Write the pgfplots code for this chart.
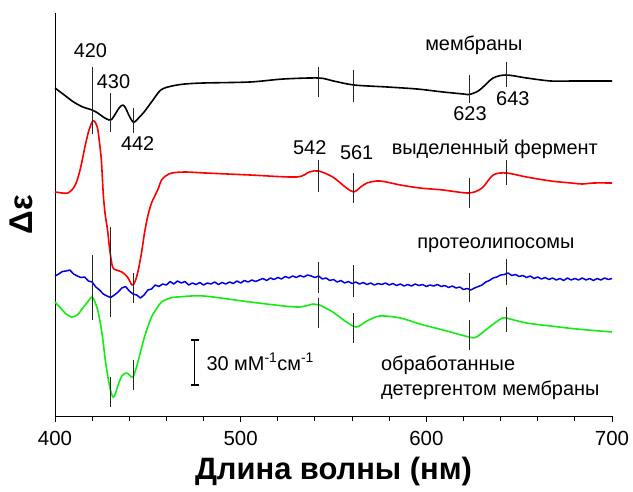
\documentclass[border=0pt]{standalone}
\usepackage{pgfplots}
\pgfplotsset{compat=1.18}
\usepackage{fontspec}
\setmainfont{Liberation Sans}
\definecolor{cred}{RGB}{255,0,0}
\definecolor{cblue}{RGB}{0,0,235}
\definecolor{cgreen}{RGB}{20,235,20}
\newcommand\mk[3]{\addplot[mk] coordinates {(#1,#2) (#1,#3)};}
\tikzset{lab/.style={font=\fontsize{20}{25}\selectfont, inner sep=0pt}}
\begin{document}
\begin{tikzpicture}
\begin{axis}[
  scale only axis, width=557bp, height=403bp,
  xmin=400, xmax=700, ymin=0, ymax=403,
  axis x line*=bottom, axis y line*=left,
  axis line style={-, line width=1bp},
  xtick={400,500,600,700}, minor xtick={420,440,460,480,520,540,560,580,620,640,660,680},
  ytick=\empty,
  tick align=outside, major tick length=6bp, minor tick length=5bp,
  tick style={line width=0.9bp, black},
  /pgf/number format/assume math mode=true,
  xticklabel style={font=\fontsize{20.5}{24}\selectfont, yshift=-6bp},
  xlabel={\bfseries Длина волны (нм)},
  xlabel style={font=\fontsize{31}{36}\selectfont, at={(axis description cs:0.5,-0.137)}, anchor=center},
  ylabel={\bfseries Δε},
  ylabel style={font=\fontsize{33}{38}\selectfont, at={(axis description cs:-0.06,0.5)}, anchor=center},
  clip=false,
  mk/.style={black!85, line width=0.9bp},
  curve/.style={line width=1.6bp, line join=round},
]
% black: membranes
\addplot[curve, black, smooth] coordinates {
(400,328) (405,321) (410,314) (415,309) (420,306) (423,303) (426,299) (429,296) (430.5,296.5) (432.5,302) (434.5,308) (436.5,311) (438,308) (440,300) (442,294) (443.5,295) (445.5,299) (448,304) (452,314) (457,326) (463,330) (470,332) (480,333) (505,334) (523,337) (542,338) (550,335) (561,331) (579,329) (595,327) (609,324) (620,322) (623,321.5) (627,324) (630,328) (636,338) (643,341) (654,338) (667,335) (680,335) (700,335)
};
% red: isolated enzyme
\addplot[curve, cred, smooth] coordinates {
(400,224) (404,223) (407,223) (410,228) (412,236) (414,250) (416,268) (418,284) (420,294) (421,295) (422,292.5) (423,287) (424,273) (425,255) (426,222) (427,202) (428.3,186) (429.5,166) (431,149) (433,146) (436,144) (439,139) (441.5,131) (443,134) (444.5,143) (446.5,162) (448.2,183) (450,200) (452,213) (455.3,226) (457.4,236) (460,240.5) (463,243) (470,244) (481,243) (505,241) (530,239) (537,244) (542,245) (549.6,239) (557,228) (561,224) (564,228) (568,233) (575,235) (586,231) (596.5,228) (609,226) (623,223) (630,228) (636,241) (643,243) (654,239) (667,235) (678,233) (684,232) (690,233) (700,233)
};
% blue: proteoliposomes
\addplot[curve, cblue, line width=1.5bp] coordinates {
(400,140) (402,142) (404,144.5) (406,145) (408,146) (410,142) (412,140) (414,138.5) (416,139) (418,135) (420,134) (422,129) (424,126) (426,122) (428,120) (430,118.5) (432,121) (434,124) (436,128) (438,129.5) (440,125) (442,122) (444,121) (446,118) (448,121) (450,126) (452,127) (454,131) (456,129.5) (458,132) (460,131) (462,134.5) (464,132) (466,135) (468,133) (470,134.5) (472,131) (474,133) (476,131.5) (478,133.5) (480,131) (482,133) (484,132) (486,134) (488,131.5) (490,133.5) (492,132) (494,134) (496,132.5) (498,135) (500,133) (502,135.5) (504,134) (506,136) (508,134.5) (510,136) (512,137.5) (514,135.5) (516,138) (518,136.5) (520,138.5) (522,137) (524,139.5) (526,138) (528,140) (530,138.5) (532,140.5) (534,139) (536,141) (538,140) (540,138.5) (542,140) (544,137) (546,138) (548,135.5) (550,136.5) (552,134) (554,135.5) (556,133) (558,134.5) (560,132.5) (562,134) (564,132) (566,133.5) (568,131.5) (570,133) (572,131) (574,132.5) (576,131.5) (578,133) (580,131) (582,132.5) (584,130.5) (586,132) (588,130) (590,131.5) (592,130) (594,132) (596,130.5) (598,131.5) (600,129.5) (602,131) (604,130) (606,131.5) (608,129.5) (610,130.5) (612,128.5) (614,130) (616,128) (618,129) (620,126.5) (622,127.5) (624,126) (626,128) (628,129.5) (630,131) (632,134) (634,135.5) (636,138) (638,139) (640,141) (642,141.5) (644,143) (646,140.5) (648,141.5) (650,139.5) (652,140.5) (654,138.5) (656,140) (658,137.5) (660,139) (662,137) (664,138.5) (666,136.5) (668,138) (670,136) (672,137.5) (674,135.5) (676,138) (678,136) (680,137.5) (682,136) (684,138) (686,136) (688,137.5) (690,135.5) (692,137.5) (694,136) (696,138) (698,136.5) (700,137.5)
};
% green: detergent-treated membranes
\addplot[curve, cgreen, smooth] coordinates {
(400,114) (403,108) (406,102) (409,99) (412,101) (415,108) (418,115) (420,119) (421.5,114) (423,106) (424.5,92) (425.8,76) (427,57) (428.5,39) (430,25) (431.2,19) (432.3,21) (434,31) (436,40) (438.5,43) (440,41) (442,39) (444.5,53) (448.2,79) (452,99) (455,108) (457.4,114) (462,118) (466,119) (480,120) (505,114) (530,109) (539,112) (542.5,111) (549.6,104) (557,94) (562.5,89) (568,95) (575,100) (586,98) (596.5,92) (609,86) (623,79) (627,79) (634,89) (641,98) (645,97) (654,93) (667,90) (681,87) (700,84)
};
% markers
\mk{420}{349}{282} \mk{430}{323}{284} \mk{442}{308}{283}
\mk{542}{349}{319} \mk{561}{346}{314} \mk{623}{341}{313} \mk{643}{354}{329}
\mk{430}{189}{99} \mk{442}{143}{113}
\mk{542}{256}{224} \mk{561}{243}{213} \mk{623}{238}{208} \mk{643}{256}{231}
\mk{420}{161}{96}
\mk{542}{154}{123} \mk{561}{151}{119} \mk{623}{143}{114} \mk{643}{157}{131}
\mk{430}{39}{9} \mk{442}{56}{26}
\mk{542}{118}{88} \mk{561}{103}{73} \mk{623}{96}{66} \mk{643}{109}{84}
% scale bar
\addplot[black, line width=1.3bp] coordinates {(475.3,31) (475.3,76)};
\addplot[black, line width=1.3bp] coordinates {(473.0,76) (477.6,76)};
\addplot[black, line width=1.3bp] coordinates {(473.0,31) (477.6,31)};
\node[lab, anchor=west] at (axis cs:481.5,54) {30 мМ\textsuperscript{-1}см\textsuperscript{-1}};
% labels
\node[lab] at (axis cs:419.1,365) {420};
\node[lab] at (axis cs:431.5,334) {430};
\node[lab] at (axis cs:444.5,272) {442};
\node[lab] at (axis cs:537.2,268) {542};
\node[lab] at (axis cs:562.5,263) {561};
\node[lab] at (axis cs:623.5,302) {623};
\node[lab] at (axis cs:646.6,317) {643};
\node[lab] at (axis cs:625.6,371) {мембраны};
\node[lab] at (axis cs:636.9,267) {выделенный фермент};
\node[lab] at (axis cs:637.5,171) {протеолипосомы};
\node[lab, anchor=west, align=left] at (axis cs:575.5,38) {обработанные\\детергентом мембраны};
\end{axis}
\pgfresetboundingbox
\path[use as bounding box] (-55bp,-76bp) rectangle (578bp,416bp);
\end{tikzpicture}
\end{document}
